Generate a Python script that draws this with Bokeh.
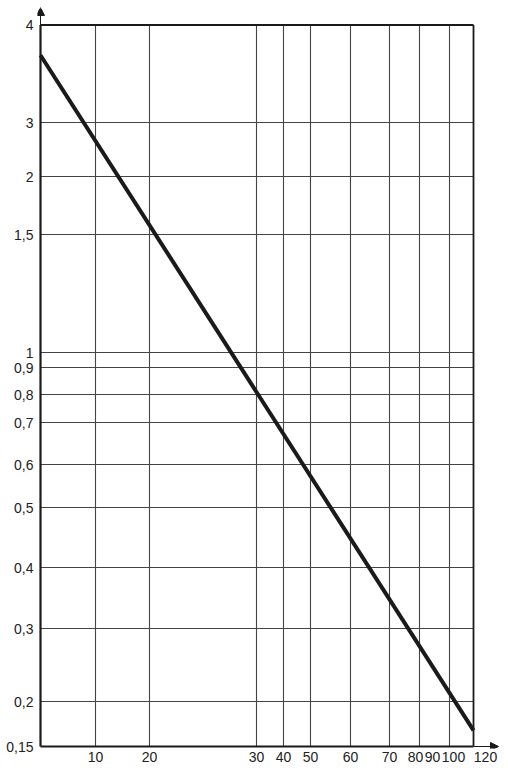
import numpy as np
from bokeh.plotting import figure
from bokeh.models import (Range1d, FixedTicker, CustomJSTickFormatter, Arrow,
                          NormalHead, ColumnDataSource)
from bokeh.embed import file_html
from bokeh.resources import INLINE

# ---- data ----
# The original chart uses an irregular (hand-drawn) scale: value -> distance along axis
x_values = [0, 10, 20, 30, 40, 50, 60, 70, 80, 90, 100, 120]
x_scale = [0, 55, 109, 216, 243, 270, 310, 349, 379, 394, 409, 433]
x_tick_values = [10, 20, 30, 40, 50, 60, 70, 80, 90, 100, 120]
x_tick_labels = ["10", "20", "30", "40", "50", "60", "70", "80", "90", "100", "120"]
x_grid_values = [10, 20, 30, 40, 50, 60, 70, 80, 100]

y_values = [0.15, 0.2, 0.3, 0.4, 0.5, 0.6, 0.7, 0.8, 0.9, 1, 1.5, 2, 3, 4]
y_scale = [0, 45, 118, 179, 239, 282, 324, 352, 379, 394, 512, 570, 624, 721.5]
y_tick_labels = ["0,15", "0,2", "0,3", "0,4", "0,5", "0,6", "0,7", "0,8", "0,9",
                 "1", "1,5", "2", "3", "4"]
y_grid_values = [0.2, 0.3, 0.4, 0.5, 0.6, 0.7, 0.8, 0.9, 1, 1.5, 2, 3]

line_x = [0, 120]
line_y = [3.69, 0.168]

# ---- scale helpers ----
def fx(v):
    return np.interp(v, x_values, x_scale)

def fy(v):
    return np.interp(v, y_values, y_scale)

X_MIN, X_MAX = 0, 120
Y_MIN, Y_MAX = 0.15, 4
# crowded labels at the right end are spread a little, as in the original
label_nudge = {80: -4, 90: -2, 100: 4, 120: 12}

FONT = "Liberation Sans"
INK = "#1a1a1a"
GRID = "#444444"

p = figure(width=508, height=771, output_backend="svg", toolbar_location=None,
           x_range=Range1d(-3, 460), y_range=Range1d(-2, 738),
           min_border_left=37, min_border_right=8, min_border_top=8,
           min_border_bottom=23)
p.outline_line_color = None
p.xgrid.visible = False
p.ygrid.visible = False

# grid
gx = fx(x_grid_values)
p.segment(x0=gx, y0=fy(Y_MIN), x1=gx, y1=fy(Y_MAX), line_color=GRID, line_width=1.1)
gy = fy(y_grid_values)
p.segment(x0=fx(X_MIN), y0=gy, x1=fx(X_MAX), y1=gy, line_color=GRID, line_width=1.1)

# frame (top and right)
p.segment(x0=[fx(X_MIN), fx(X_MAX)], y0=[fy(Y_MAX), fy(Y_MIN)],
          x1=[fx(X_MAX), fx(X_MAX)], y1=[fy(Y_MAX), fy(Y_MAX)],
          line_color=INK, line_width=1.8)
# axes lines
p.segment(x0=[fx(X_MIN), fx(X_MIN)], y0=[fy(Y_MIN), fy(Y_MIN)],
          x1=[fx(X_MIN), fx(X_MAX)], y1=[fy(Y_MAX), fy(Y_MIN)],
          line_color=INK, line_width=2.2)
# axis arrows
p.add_layout(Arrow(end=NormalHead(size=8, fill_color=INK, line_color=INK, line_width=1),
                   x_start=fx(X_MIN), y_start=fy(Y_MAX), x_end=fx(X_MIN), y_end=739,
                   line_color=INK, line_width=1))
p.add_layout(Arrow(end=NormalHead(size=8, fill_color=INK, line_color=INK, line_width=1),
                   x_start=fx(X_MAX), y_start=fy(Y_MIN), x_end=458, y_end=fy(Y_MIN),
                   line_color=INK, line_width=1))

# data line
src = ColumnDataSource(dict(x=fx(line_x), y=fy(line_y)))
p.line("x", "y", source=src, line_color=INK, line_width=4)

# axes (labels only)
x_label_pos = [float(fx(v) + label_nudge.get(v, 0)) for v in x_tick_values]
p.xaxis.ticker = FixedTicker(ticks=x_label_pos)
p.xaxis.formatter = CustomJSTickFormatter(args=dict(pos=x_label_pos, labels=x_tick_labels), code="""
let best = 0, d = Infinity;
for (let i = 0; i < pos.length; i++) { const e = Math.abs(pos[i] - tick); if (e < d) { d = e; best = i; } }
return labels[best];
""")
y_label_pos = [float(v) for v in fy(y_values)]
p.yaxis.ticker = FixedTicker(ticks=y_label_pos)
p.yaxis.formatter = CustomJSTickFormatter(args=dict(pos=y_label_pos, labels=y_tick_labels), code="""
let best = 0, d = Infinity;
for (let i = 0; i < pos.length; i++) { const e = Math.abs(pos[i] - tick); if (e < d) { d = e; best = i; } }
return labels[best];
""")
for ax in (p.xaxis[0], p.yaxis[0]):
    ax.axis_line_color = None
    ax.major_tick_line_color = None
    ax.minor_tick_line_color = None
    ax.major_tick_out = 0
    ax.major_tick_in = 0
    ax.major_label_text_font = FONT
    ax.major_label_text_font_size = "14px"
    ax.major_label_text_color = "#222222"
p.xaxis[0].major_label_standoff = 3
p.yaxis[0].major_label_standoff = 4

open("out.html", "w").write(file_html(p, INLINE))
